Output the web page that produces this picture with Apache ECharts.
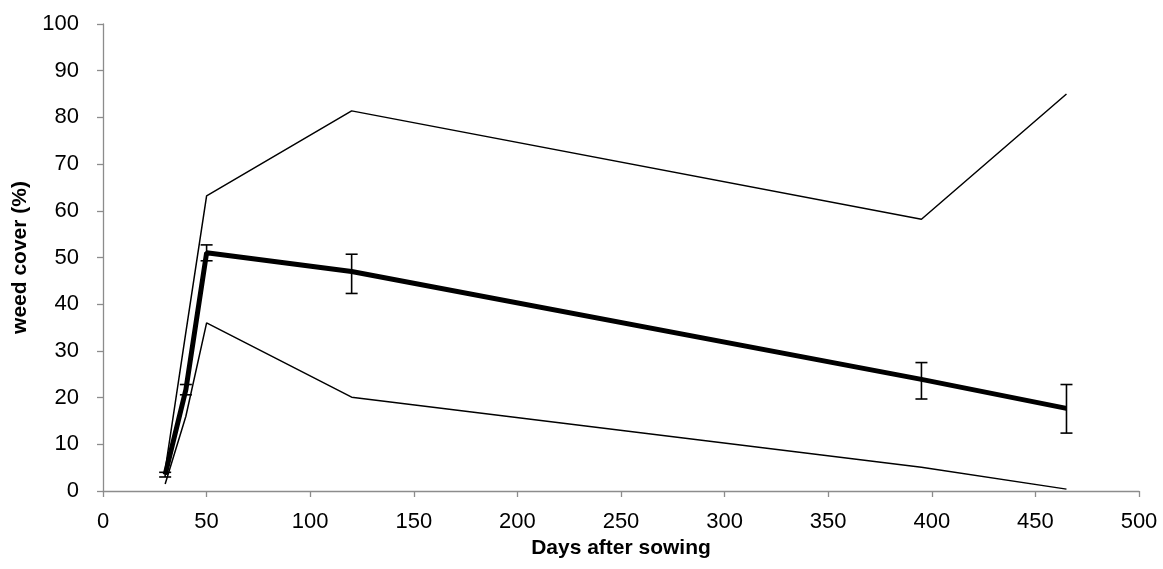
<!DOCTYPE html>
<html>
<head>
<meta charset="utf-8">
<script src="https://cdn.jsdelivr.net/npm/echarts@6/dist/echarts.min.js"></script>
<style>html,body{margin:0;padding:0;background:#fff}#c{width:1163px;height:569px}</style>
</head>
<body>
<div id="c"></div>
<script>
var days = [30, 40, 50, 120, 395, 465];
var meanCover = [3.5, 21.7, 51, 47, 23.9, 17.7];
var errLow = [3.0, 20.6, 49.3, 42.3, 19.7, 12.4];
var errHigh = [4.0, 22.8, 52.7, 50.7, 27.5, 22.8];
var maxCover = [4.5, 34, 63.2, 81.4, 58.2, 85];
var minCover = [1.5, 16, 36, 20.1, 5.1, 0.4];
var xTicks = [0, 50, 100, 150, 200, 250, 300, 350, 400, 450, 500];
var yTicks = [0, 10, 20, 30, 40, 50, 60, 70, 80, 90, 100];

function pairs(xs, ys) { return xs.map(function (x, i) { return [x, ys[i]]; }); }

var chart = echarts.init(document.getElementById('c'), null, { renderer: 'canvas' });
var font = 'Liberation Sans, Arial, sans-serif';
var axisGrey = '#8c8c8c';
chart.setOption({
  animation: false,
  backgroundColor: '#fff',
  grid: { left: 103, right: 24, top: 24, bottom: 78, containLabel: false },
  xAxis: {
    type: 'value', min: xTicks[0], max: xTicks[xTicks.length - 1], interval: 50,
    name: 'Days after sowing', nameLocation: 'middle', nameGap: 37,
    nameTextStyle: { fontFamily: font, fontSize: 21, fontWeight: 'bold', color: '#000' },
    axisLine: { show: true, onZero: false, lineStyle: { color: axisGrey, width: 1.3 } },
    axisTick: { show: true, length: 6, lineStyle: { color: axisGrey, width: 1.3 } },
    axisLabel: { fontFamily: font, fontSize: 22, color: '#000', margin: 20 },
    splitLine: { show: false }
  },
  yAxis: {
    type: 'value', min: yTicks[0], max: yTicks[yTicks.length - 1], interval: 10,
    name: 'weed cover (%)', nameLocation: 'middle', nameGap: 72, nameRotate: 90,
    nameTextStyle: { fontFamily: font, fontSize: 21, fontWeight: 'bold', color: '#000' },
    axisLine: { show: true, lineStyle: { color: axisGrey, width: 1.3 } },
    axisTick: { show: true, length: 6, lineStyle: { color: axisGrey, width: 1.3 } },
    axisLabel: { fontFamily: font, fontSize: 22, color: '#000', margin: 24 },
    splitLine: { show: false }
  },
  series: [
    { type: 'line', data: pairs(days, maxCover), symbol: 'none', lineStyle: { color: '#000', width: 1.5 }, z: 2 },
    { type: 'line', data: pairs(days, minCover), symbol: 'none', lineStyle: { color: '#000', width: 1.5 }, z: 2 },
    { type: 'line', data: pairs(days, meanCover), symbol: 'none', lineStyle: { color: '#000', width: 5 }, z: 3 },
    {
      type: 'custom', z: 4,
      data: days.map(function (d, i) { return [d, errLow[i], errHigh[i]]; }),
      renderItem: function (params, api) {
        var lo = api.coord([api.value(0), api.value(1)]);
        var hi = api.coord([api.value(0), api.value(2)]);
        var hw = 6;
        var st = { stroke: '#000', lineWidth: 1.6 };
        return {
          type: 'group',
          children: [
            { type: 'line', shape: { x1: lo[0], y1: lo[1], x2: hi[0], y2: hi[1] }, style: st },
            { type: 'line', shape: { x1: lo[0] - hw, y1: lo[1], x2: lo[0] + hw, y2: lo[1] }, style: st },
            { type: 'line', shape: { x1: hi[0] - hw, y1: hi[1], x2: hi[0] + hw, y2: hi[1] }, style: st }
          ]
        };
      }
    }
  ]
});
</script>
</body>
</html>
